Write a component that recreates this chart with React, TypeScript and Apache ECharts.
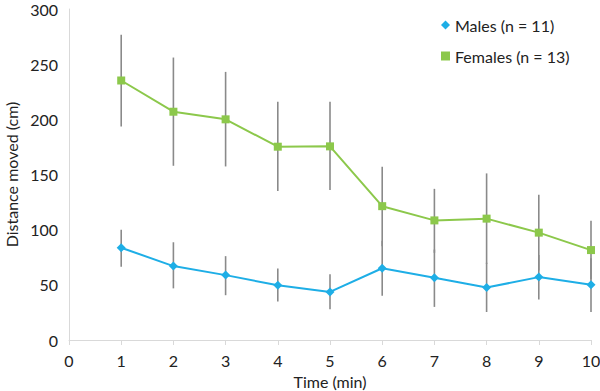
import React, { useEffect, useRef } from "react";
import * as echarts from "echarts";

const times = [1, 2, 3, 4, 5, 6, 7, 8, 9, 10];
const malesMean = [83.6, 67, 58.8, 49.6, 43.6, 65, 56.4, 47.5, 57, 50];
const malesLow = [66.5, 46.8, 40.6, 35, 27.8, 40, 30, 25.4, 36.7, 25.4];
const malesHigh = [100, 88.6, 76, 64.8, 59.7, 90, 82, 70, 77, 74];
const femalesMean = [235.2, 206.9, 200, 175.2, 175.5, 121.3, 108.4, 110, 97.3, 81.5];
const femalesLow = [193.4, 157.9, 157.3, 135, 136, 85, 79, 69, 63, 55];
const femalesHigh = [276.7, 256, 243, 216, 216, 157, 137, 151, 131.6, 108];
const xTicks = [0, 1, 2, 3, 4, 5, 6, 7, 8, 9, 10];
const yTicks = [0, 50, 100, 150, 200, 250, 300];

const MALE_COLOR = "#1EAEE6";
const FEMALE_COLOR = "#8CC84B";
const FONT = "Lato, 'Open Sans', sans-serif";
const FS = 16;

export default function App() {
  const ref = useRef<HTMLDivElement>(null);
  useEffect(() => {
    if (!ref.current) return;
    const chart = echarts.init(ref.current, undefined, { renderer: "svg" });
    const errData: number[][] = [];
    times.forEach((t, i) => {
      errData.push([t, femalesLow[i], femalesHigh[i]]);
      errData.push([t, malesLow[i], malesHigh[i]]);
    });
    chart.setOption({
      animation: false,
      textStyle: { fontFamily: FONT },
      grid: { left: 69, right: 9, top: 9, bottom: 51, outerBoundsMode: "none", containLabel: false },
      legend: {
        orient: "vertical",
        left: 436,
        top: 12,
        itemGap: 15,
        itemWidth: 9,
        itemHeight: 9,
        textStyle: { fontSize: FS, color: "#222", fontFamily: FONT },
        data: [
          { name: "Males (n = 11)", icon: "diamond" },
          { name: "Females (n = 13)", icon: "rect" },
        ],
      },
      xAxis: {
        type: "value",
        min: xTicks[0],
        max: xTicks[xTicks.length - 1],
        interval: 1,
        name: "Time (min)",
        nameLocation: "middle",
        nameGap: 33,
        nameTextStyle: { fontSize: FS, color: "#222", fontFamily: FONT },
        axisLine: { show: true, lineStyle: { color: "#D9D9D9", width: 1 } },
        axisTick: { show: true, length: 5, lineStyle: { color: "#D9D9D9" } },
        axisLabel: { fontSize: FS, color: "#222", margin: 12, fontFamily: FONT },
        splitLine: { show: false },
      },
      yAxis: {
        type: "value",
        min: yTicks[0],
        max: yTicks[yTicks.length - 1],
        interval: 50,
        name: "Distance moved (cm)",
        nameLocation: "middle",
        nameGap: 50,
        nameTextStyle: { fontSize: FS, color: "#222", fontFamily: FONT },
        axisLine: { show: true, lineStyle: { color: "#D9D9D9", width: 1 } },
        axisTick: { show: false },
        axisLabel: { fontSize: FS, color: "#222", margin: 11, fontFamily: FONT },
        splitLine: { show: false },
      },
      series: [
        {
          type: "custom",
          name: "err",
          z: 1,
          data: errData,
          renderItem: (params: any, api: any) => {
            const x = api.value(0);
            const p1 = api.coord([x, api.value(1)]);
            const p2 = api.coord([x, api.value(2)]);
            return {
              type: "line",
              shape: { x1: p1[0], y1: p1[1], x2: p2[0], y2: p2[1] },
              style: { stroke: "#8A8A8A", lineWidth: 1.6 },
            };
          },
        },
        {
          type: "line",
          name: "Males (n = 11)",
          z: 3,
          data: times.map((t, i) => [t, malesMean[i]]),
          symbol: "diamond",
          symbolSize: 9,
          color: MALE_COLOR,
          lineStyle: { color: MALE_COLOR, width: 2 },
          itemStyle: { color: MALE_COLOR },
        },
        {
          type: "line",
          name: "Females (n = 13)",
          z: 3,
          data: times.map((t, i) => [t, femalesMean[i]]),
          symbol: "rect",
          symbolSize: 8,
          color: FEMALE_COLOR,
          lineStyle: { color: FEMALE_COLOR, width: 2 },
          itemStyle: { color: FEMALE_COLOR },
        },
      ],
    });
    return () => chart.dispose();
  }, []);
  return <div ref={ref} style={{ width: 600, height: 391, position: "absolute", left: 0, top: 0 }} />;
}
